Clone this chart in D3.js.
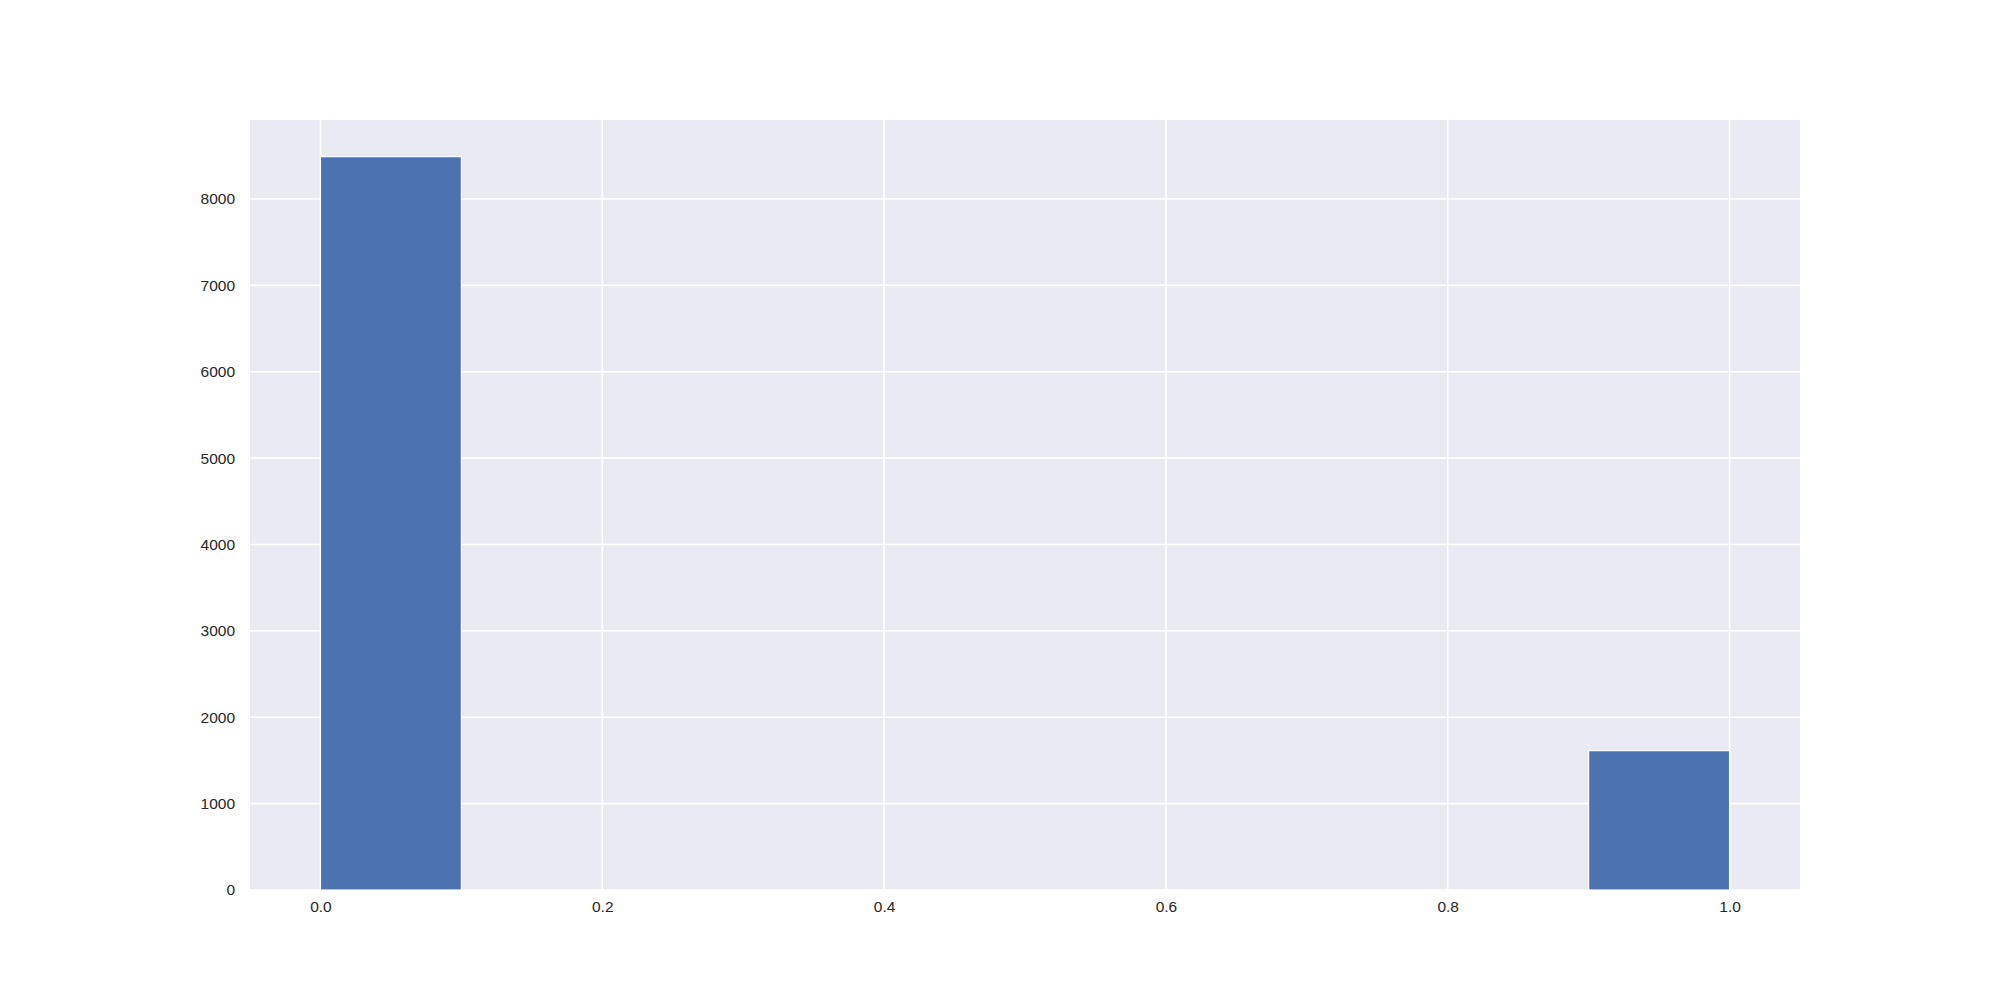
<!DOCTYPE html>
<html>
<head>
<meta charset="utf-8">
<script src="https://cdn.jsdelivr.net/npm/d3@7"></script>
<style>
  body { margin: 0; background: #fff; }
  .tick text { font-family: Arial, "Liberation Sans", sans-serif; font-size: 15.5px; fill: #262626; }
</style>
</head>
<body>
<script>
// histogram bins (10 bins over 0..1) and counts
var binEdges = [0, 0.1, 0.2, 0.3, 0.4, 0.5, 0.6, 0.7, 0.8, 0.9, 1.0];
var counts = [8490, 0, 0, 0, 0, 0, 0, 0, 0, 1613];
var xTicks = [0, 0.2, 0.4, 0.6, 0.8, 1.0];
var yTicks = [0, 1000, 2000, 3000, 4000, 5000, 6000, 7000, 8000];

// figure size and margins (matplotlib style)
var W = 2000, H = 1000;
var margin = {top: 120, right: 200, bottom: 110, left: 250},
    width = W - margin.left - margin.right,
    height = H - margin.top - margin.bottom;

var bins = counts.map(function(c, i) {
    return {x0: binEdges[i], x1: binEdges[i + 1], count: c};
});

var x = d3.scaleLinear().domain([-0.05, 1.05]).range([0, width]);
var y = d3.scaleLinear().domain([0, d3.max(counts) * 1.05]).range([height, 0]);

var svg = d3.select("body").append("svg")
    .attr("width", W)
    .attr("height", H)
    .append("g")
    .attr("transform", "translate(" + margin.left + "," + margin.top + ")");

// background
svg.append("rect")
    .attr("width", width)
    .attr("height", height)
    .style("fill", "#eaeaf2");

// grid lines
svg.append("g").selectAll("line").data(xTicks).enter().append("line")
    .attr("x1", function(d) { return x(d); })
    .attr("x2", function(d) { return x(d); })
    .attr("y1", 0)
    .attr("y2", height)
    .style("stroke", "#fff")
    .style("stroke-width", 1.6);

svg.append("g").selectAll("line").data(yTicks).enter().append("line")
    .attr("x1", 0)
    .attr("x2", width)
    .attr("y1", function(d) { return y(d); })
    .attr("y2", function(d) { return y(d); })
    .style("stroke", "#fff")
    .style("stroke-width", 1.6);

// bars
svg.append("g").selectAll("rect").data(bins.filter(function(d) { return d.count > 0; }))
    .enter().append("rect")
    .attr("x", function(d) { return x(d.x0); })
    .attr("y", function(d) { return y(d.count); })
    .attr("width", function(d) { return x(d.x1) - x(d.x0); })
    .attr("height", function(d) { return height - y(d.count); })
    .style("fill", "#4c72b0")
    .style("stroke", "#fff")
    .style("stroke-width", 1.2);

// axes
var xAxis = svg.append("g")
    .attr("transform", "translate(0," + height + ")")
    .call(d3.axisBottom(x).tickValues(xTicks).tickFormat(d3.format(".1f")).tickSize(0).tickPadding(11));
xAxis.select(".domain").remove();

var yAxis = svg.append("g")
    .call(d3.axisLeft(y).tickValues(yTicks).tickFormat(d3.format("d")).tickSize(0).tickPadding(15));
yAxis.select(".domain").remove();
</script>
</body>
</html>
